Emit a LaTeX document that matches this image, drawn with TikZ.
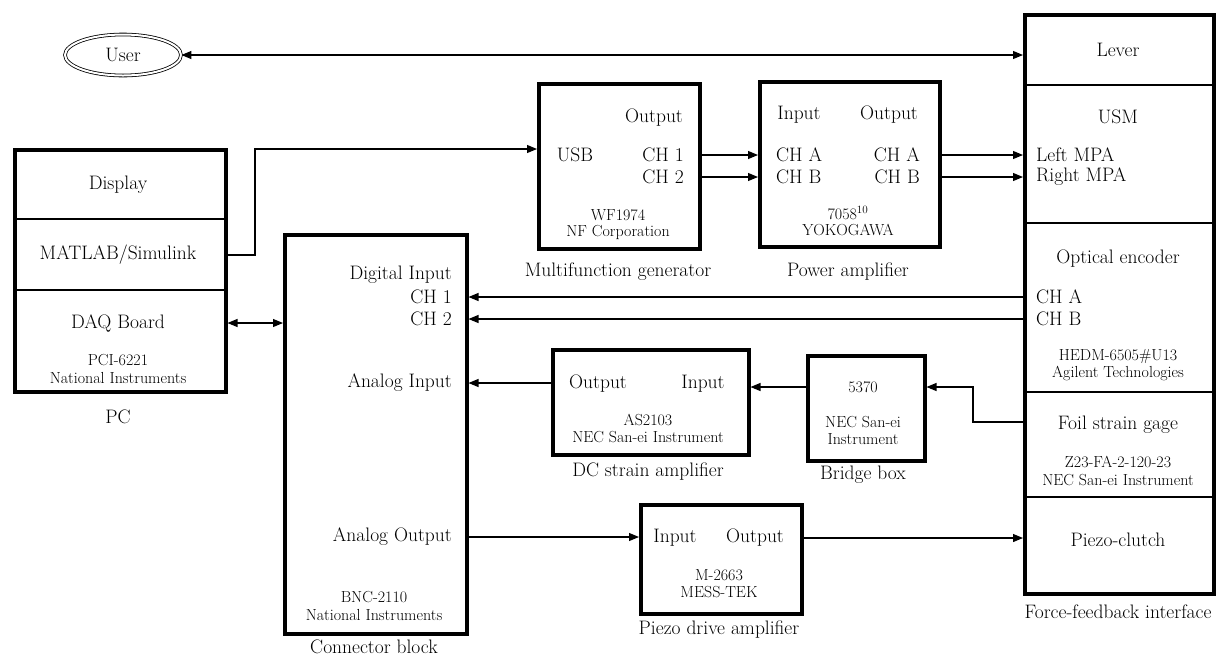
\documentclass[tikz,border=0pt]{standalone}
\usepackage{fontspec}
\usetikzlibrary{arrows.meta,shapes.geometric}
\tikzset{
  box/.style={draw, line width=3.5pt, anchor=north west, inner sep=0pt},
  sep/.style={line width=1.1pt},
  arr/.style={line width=1.1pt, -{Triangle[length=10pt,width=8pt]}},
  biarr/.style={line width=1.1pt, {Triangle[length=10pt,width=8pt]}-{Triangle[length=10pt,width=8pt]}},
  plain/.style={line width=1.1pt},
  lbl/.style={font=\fontsize{19.5}{21}\selectfont, inner sep=0pt},
  sm/.style={font=\fontsize{16}{18}\selectfont, inner sep=0pt},
}
\begin{document}
\begin{tikzpicture}[x=1pt,y=-1pt]
\useasboundingbox (0,0) rectangle (1232,657);

% ---------- boxes ----------
\node[box, minimum width=211pt, minimum height=242pt] (pc) at (13,148) {};
\node[box, minimum width=182pt, minimum height=399pt] (conn) at (283,233) {};
\node[box, minimum width=161pt, minimum height=165pt] (mfg) at (537,82) {};
\node[box, minimum width=180pt, minimum height=165pt] (pa) at (758,80) {};
\node[box, minimum width=196pt, minimum height=105pt] (dc) at (551,348) {};
\node[box, minimum width=117pt, minimum height=105pt] (bb) at (806,354) {};
\node[box, minimum width=161pt, minimum height=109pt] (pda) at (639,503) {};
\node[box, minimum width=189pt, minimum height=579pt] (ffi) at (1023,13) {};

\node[draw, ellipse, double, double distance=2pt, line width=0.8pt,
      minimum width=116pt, minimum height=41pt, lbl] (user) at (123,55) {User};

% ---------- PC ----------
\draw[sep] (pc.west |- 0,219) -- (pc.east |- 0,219);
\draw[sep] (pc.west |- 0,290) -- (pc.east |- 0,290);
\node[lbl] (display) at (118,185) {Display};
\node[lbl] (matlab) at (118,255) {MATLAB/Simulink};
\node[lbl] (daq) at (118,323) {DAQ Board};
\node[sm] (pci) at (118,360) {PCI-6221};
\node[sm] (pcini) at (118,378) {National Instruments};
\node[lbl] (pccap) at (118,417) {PC};

% ---------- Connector block ----------
\node[lbl, anchor=east] (digin) at (452,275) {Digital Input};
\node[lbl, anchor=east] (cch1) at (452,297) {CH 1};
\node[lbl, anchor=east] (cch2) at (452,319) {CH 2};
\node[lbl, anchor=east] (ain) at (452,383) {Analog Input};
\node[lbl, anchor=east] (aout) at (452,537) {Analog Output};
\node[sm] (bnc) at (374,597) {BNC-2110};
\node[sm] (bncni) at (374,615) {National Instruments};
\node[lbl] (conncap) at (374,647) {Connector block};

% ---------- Multifunction generator ----------
\node[lbl] (mout) at (654,118) {Output};
\node[lbl] (usb) at (575,155) {USB};
\node[lbl, anchor=east] (mch1) at (684,155) {CH 1};
\node[lbl, anchor=east] (mch2) at (684,177) {CH 2};
\node[sm] (wf) at (618,215) {WF1974};
\node[sm] (nf) at (618,232) {NF Corporation};
\node[lbl] (mfgcap) at (618,272) {Multifunction generator};

% ---------- Power amplifier ----------
\node[lbl] (pin) at (799,115) {Input};
\node[lbl] (pout) at (889,115) {Output};
\node[lbl, anchor=west] (pina) at (776,155) {CH A};
\node[lbl, anchor=west] (pinb) at (776,177) {CH B};
\node[lbl, anchor=east] (pouta) at (920,155) {CH A};
\node[lbl, anchor=east] (poutb) at (920,177) {CH B};
\node[sm] (yk) at (848,213) {7058\textsuperscript{10}};
\node[sm] (ykn) at (848,230) {YOKOGAWA};
\node[lbl] (pacap) at (848,272) {Power amplifier};

% ---------- Force-feedback interface ----------
\draw[sep] (ffi.west |- 0,85) -- (ffi.east |- 0,85);
\draw[sep] (ffi.west |- 0,223) -- (ffi.east |- 0,223);
\draw[sep] (ffi.west |- 0,392) -- (ffi.east |- 0,392);
\draw[sep] (ffi.west |- 0,497) -- (ffi.east |- 0,497);
\node[lbl] (lever) at (1118,50) {Lever};
\node[lbl] (usm) at (1118,117) {USM};
\node[lbl, anchor=west] (lmpa) at (1036,155) {Left MPA};
\node[lbl, anchor=west] (rmpa) at (1036,177) {Right MPA};
\node[lbl] (optenc) at (1118,259) {Optical encoder};
\node[lbl, anchor=west] (fcha) at (1036,297) {CH A};
\node[lbl, anchor=west] (fchb) at (1036,319) {CH B};
\node[sm] (hedm) at (1118,356) {HEDM-6505\#U13};
\node[sm] (agil) at (1118,373) {Agilent Technologies};
\node[lbl] (foil) at (1118,425) {Foil strain gage};
\node[sm] (z23) at (1118,462) {Z23-FA-2-120-23};
\node[sm] (necf) at (1118,480) {NEC San-ei Instrument};
\node[lbl] (piezo) at (1118,540) {Piezo-clutch};
\node[lbl] (fficap) at (1118,612) {Force-feedback interface};

% ---------- DC strain amplifier ----------
\node[lbl] (dcout) at (598,384) {Output};
\node[lbl] (dcin) at (703,384) {Input};
\node[sm] (as) at (648,420) {AS2103};
\node[sm] (necd) at (648,437) {NEC San-ei Instrument};
\node[lbl] (dccap) at (648,472) {DC strain amplifier};

% ---------- Bridge box ----------
\node[sm] (b5370) at (863,387) {5370};
\node[sm] (necb) at (863,422) {NEC San-ei};
\node[sm] (instb) at (863,439) {Instrument};
\node[lbl] (bbcap) at (863,475) {Bridge box};

% ---------- Piezo drive amplifier ----------
\node[lbl] (pdin) at (675,538) {Input};
\node[lbl] (pdout) at (755,538) {Output};
\node[sm] (mess) at (719,575) {M-2663};
\node[sm] (messn) at (719,592) {MESS-TEK};
\node[lbl] (pdacap) at (719,630) {Piezo drive amplifier};

% ---------- connectors ----------
\coordinate (ucon) at (user.east);
\draw[biarr] (user.east) -- (ffi.west |- ucon);

\coordinate (mbend) at (255,149);
\draw[arr] (pc.east |- matlab) -| (mbend) -- (mfg.west |- mbend);

\draw[biarr] (pc.east |- daq) -- (conn.west |- daq);

\draw[arr] (mfg.east |- mch1) -- (pa.west |- mch1);
\draw[arr] (mfg.east |- mch2) -- (pa.west |- mch2);

\draw[arr] (pa.east |- pouta) -- (ffi.west |- pouta);
\draw[arr] (pa.east |- poutb) -- (ffi.west |- poutb);

\draw[arr] (ffi.west |- fcha) -- (conn.east |- fcha);
\draw[arr] (ffi.west |- fchb) -- (conn.east |- fchb);

\draw[arr] (dc.west |- ain) -- (conn.east |- ain);
\draw[arr] (bb.west |- b5370) -- (dc.east |- b5370);

\coordinate (foilout) at (1023,422);
\coordinate (fbend) at (973,387);
\draw[arr] (foilout) -| (fbend) -- (bb.east |- fbend);

\draw[arr] (conn.east |- aout) -- (pda.west |- aout);
\draw[arr] (pda.east |- pdout) -- (ffi.west |- pdout);
\end{tikzpicture}
\end{document}
